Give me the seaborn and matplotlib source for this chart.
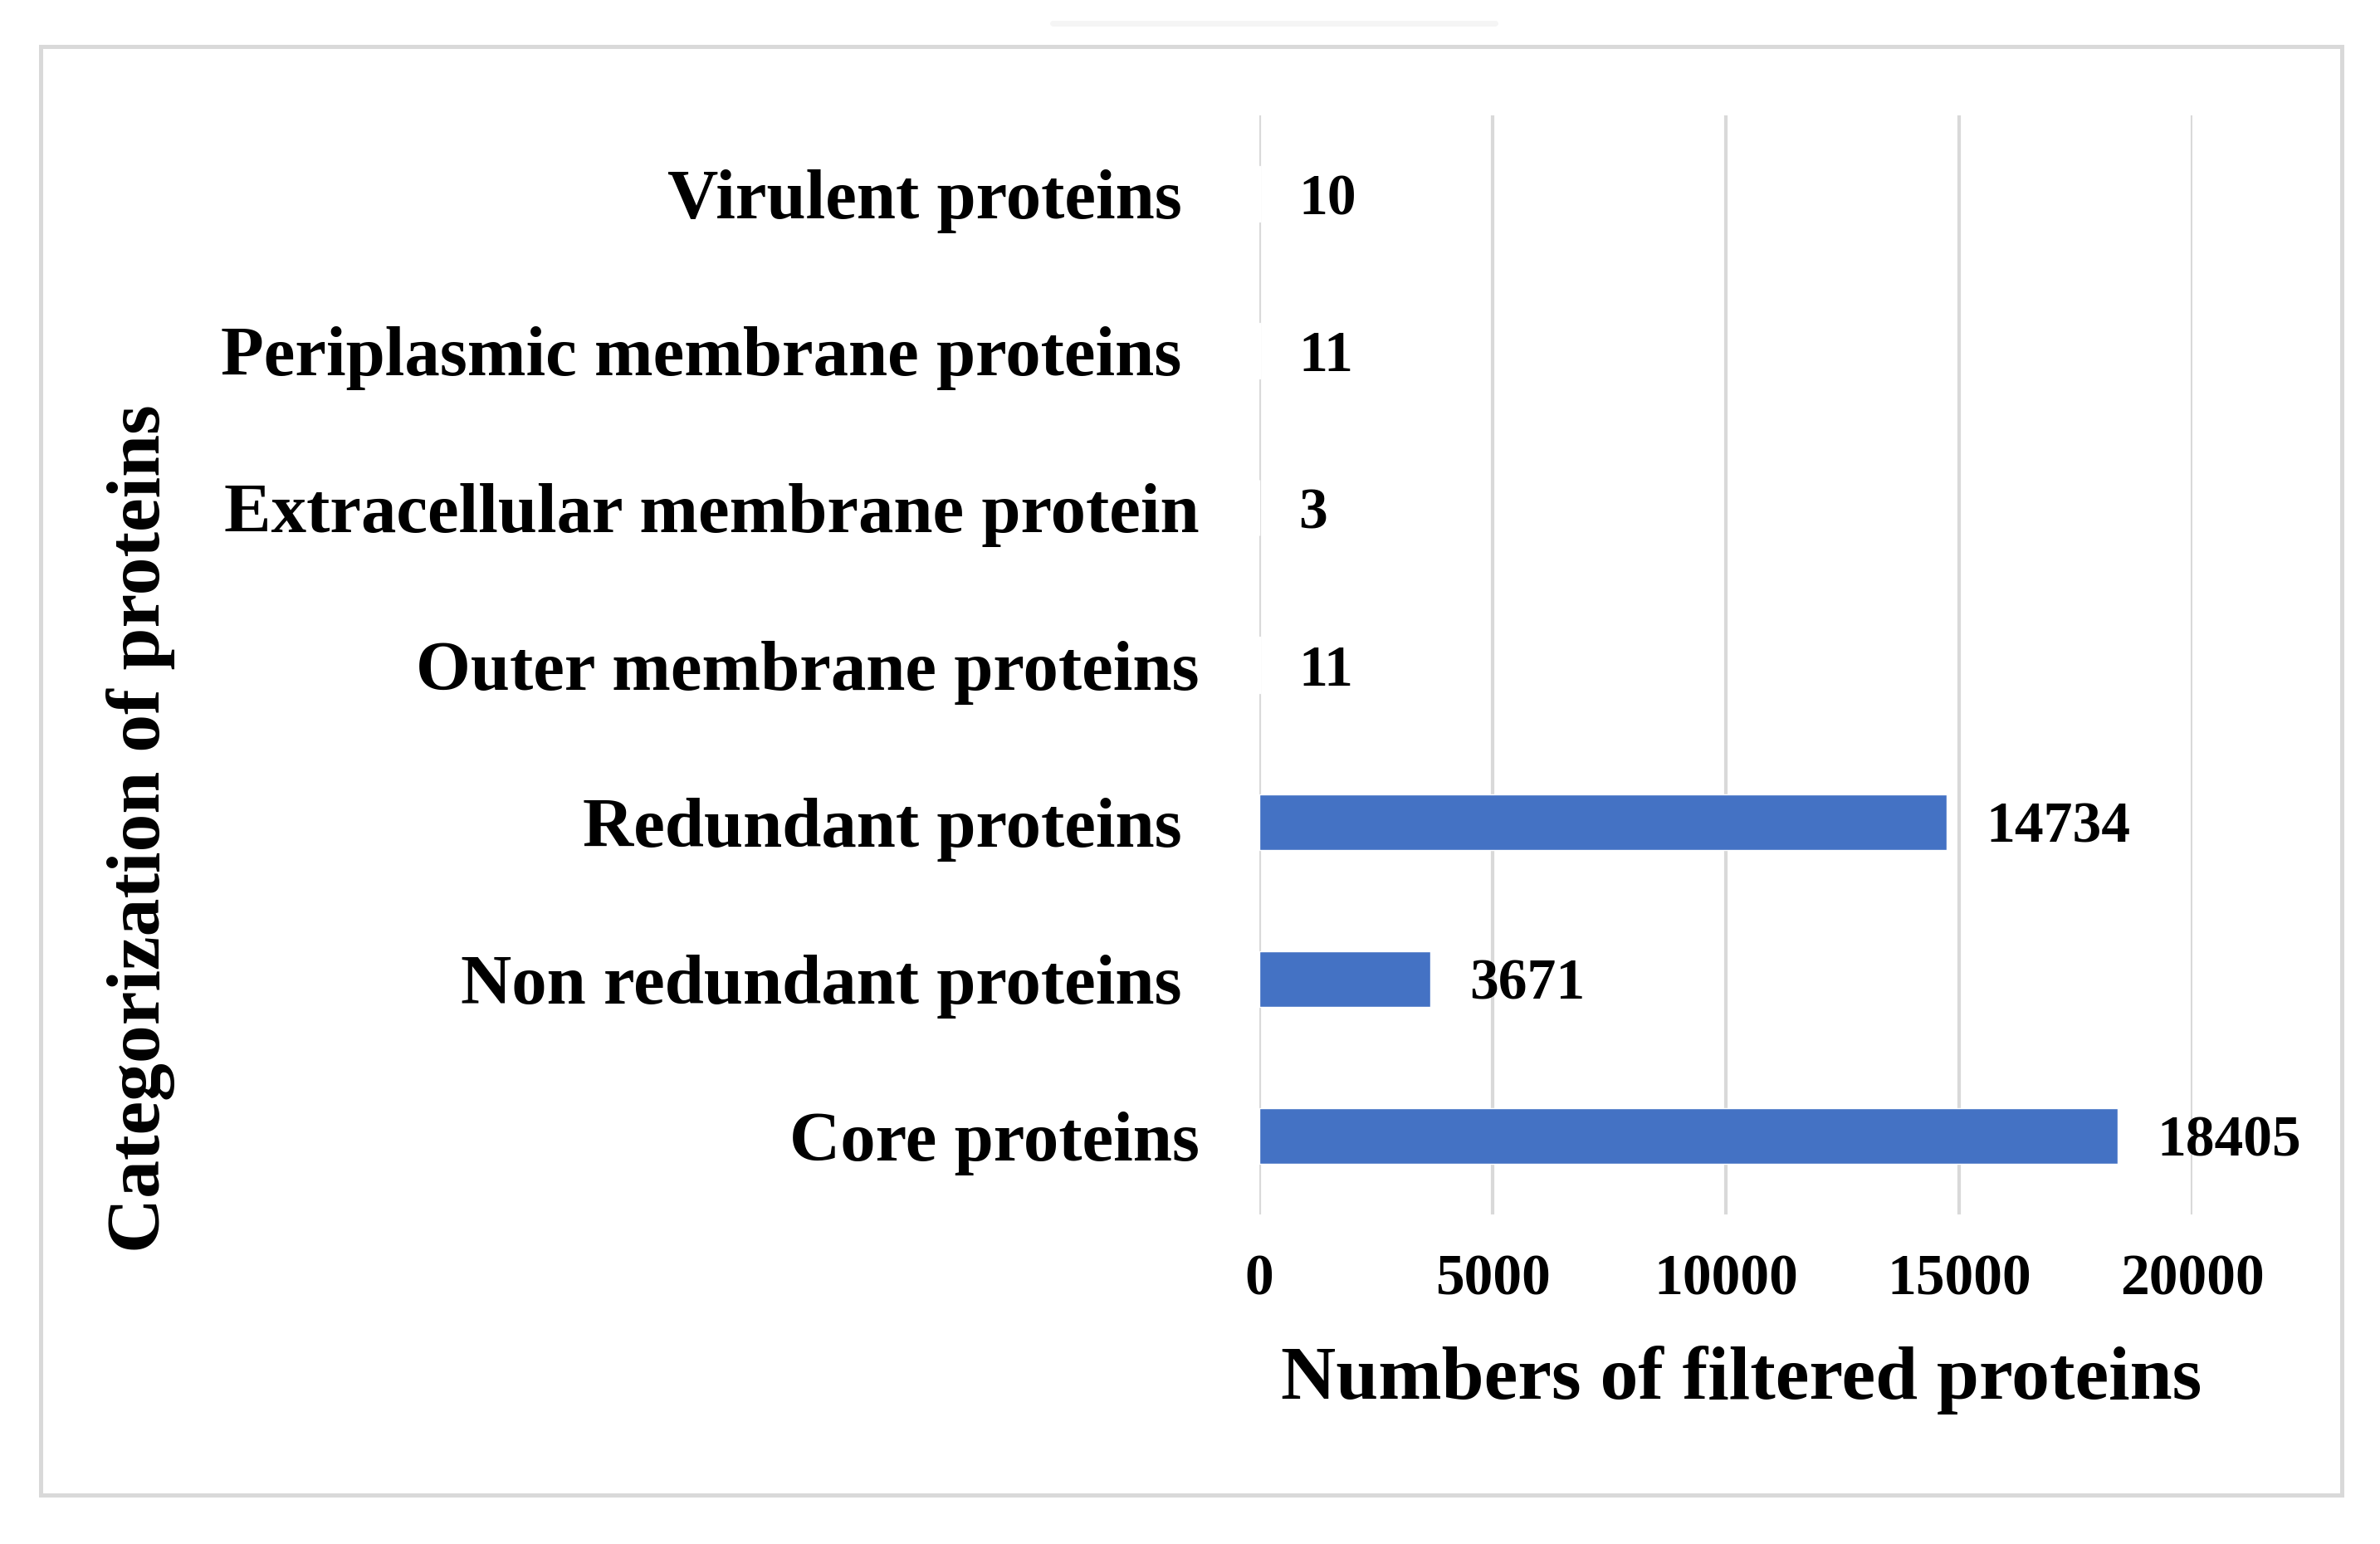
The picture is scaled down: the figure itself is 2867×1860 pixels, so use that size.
import numpy as np
import pandas as pd
import matplotlib
matplotlib.use('Agg')
import matplotlib.pyplot as plt
import matplotlib.patches as patches
import matplotlib.lines as mlines
import seaborn as sns

# ─── DATA ─────────────────────────────────────────────────────────────────────
CATEGORIES = [
    'Virulent proteins ',
    'Periplasmic membrane proteins ',
    'Extracellular membrane protein',
    'Outer membrane proteins',
    'Redundant proteins ',
    'Non redundant proteins ',
    'Core proteins',
]
COUNTS = [10, 11, 3, 11, 14734, 3671, 18405]
X_TICKS = [0, 5000, 10000, 15000, 20000]

X_LABEL = 'Numbers of filtered proteins'
Y_LABEL = 'Categorization of proteins'

BAR_COLOR = '#4472C4'
GRID_COLOR = '#d9d9d9'

# ─── STYLE ────────────────────────────────────────────────────────────────────
sns.set_style('white')
plt.rcParams['font.family'] = ['Liberation Serif', 'DejaVu Serif']
plt.rcParams['font.weight'] = 'bold'
for key in ['text.color', 'axes.labelcolor', 'xtick.color', 'ytick.color']:
    plt.rcParams[key] = 'black'

W, H, DPI = 2867, 1860, 100
fig = plt.figure(figsize=(W / DPI, H / DPI), dpi=DPI)
fig.patch.set_facecolor('white')

# axes placed in pixel terms of the reference
left, right, top, bottom = 1517, 2641, 139, 1463
ax = fig.add_axes([left / W, 1 - bottom / H, (right - left) / W, (bottom - top) / H])

df = pd.DataFrame({'category': CATEGORIES, 'count': COUNTS})
sns.barplot(data=df, x='count', y='category', orient='h',
            color=BAR_COLOR, width=0.355, saturation=1, ax=ax)

ax.set_xlim(0, 20000)
ax.set_xticks(X_TICKS)
ax.set_xticklabels([str(t) for t in X_TICKS])
ax.grid(axis='x', color=GRID_COLOR, linewidth=3)
ax.grid(axis='y', visible=False)
ax.set_axisbelow(True)
for s in ax.spines.values():
    s.set_visible(False)

ax.tick_params(axis='x', length=0, pad=34, labelsize=50)
ax.tick_params(axis='y', length=0, pad=52, labelsize=61)
for lbl in ax.get_xticklabels() + ax.get_yticklabels():
    lbl.set_fontweight('bold')

value_texts = ax.bar_label(ax.containers[0], labels=[str(c) for c in COUNTS],
                           padding=34, fontsize=50, fontweight='bold')
for t in value_texts:
    t.set_va('center_baseline')

ax.set_xlabel(X_LABEL, fontsize=66, fontweight='bold')
ax.xaxis.set_label_coords(0.517, -0.151)
ax.xaxis.label.set_va('center')
ax.set_ylabel(Y_LABEL, fontsize=66, fontweight='bold')
ax.yaxis.set_label_coords(-1.1985, 0.351)
ax.yaxis.label.set_va('center')

# outer frame of the figure panel
frame = patches.Rectangle((48.5 / W, 1 - 1801 / H), (2820.5 - 48.5) / W, (1801 - 56.5) / H,
                          transform=fig.transFigure, fill=False,
                          edgecolor=GRID_COLOR, linewidth=3.6)
fig.add_artist(frame)
# faint mark above the frame
fig.add_artist(mlines.Line2D([1268 / W, 1801 / W], [1 - 28 / H, 1 - 28 / H],
                             transform=fig.transFigure, color='#f5f5f5', linewidth=5))

fig.savefig('out.png', dpi=DPI)
